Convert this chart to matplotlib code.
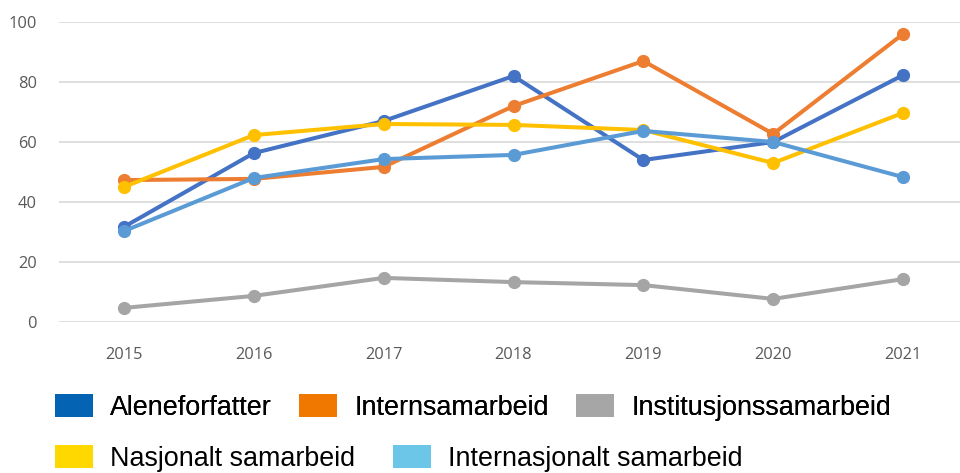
import matplotlib.pyplot as plt
from matplotlib.patches import Patch

years = ['2015', '2016', '2017', '2018', '2019', '2020', '2021']
series = ['Aleneforfatter', 'Internsamarbeid', 'Institusjonssamarbeid',
          'Nasjonalt samarbeid', 'Internasjonalt samarbeid']
aleneforfatter = [31.7, 56.3, 67, 82, 54, 60, 82.3]
internsamarbeid = [47.3, 47.7, 51.7, 72, 87, 62.7, 96]
institusjonssamarbeid = [4.7, 8.7, 14.7, 13.3, 12.3, 7.7, 14.3]
nasjonalt = [45, 62.3, 66, 65.7, 64, 53, 69.7]
internasjonalt = [30.3, 48, 54.3, 55.7, 63.7, 60, 48.3]
values = [aleneforfatter, internsamarbeid, institusjonssamarbeid, nasjonalt, internasjonalt]

line_colors = ['#4472C4', '#ED7D31', '#A5A5A5', '#FFC000', '#5B9BD5']
legend_colors = ['#0563B3', '#F07800', '#A6A6A6', '#FFD800', '#6CC6E8']

W, H = 960, 473
fig = plt.figure(figsize=(W / 100, H / 100), dpi=100)
# plot area in pixels: x 59..968 (cut off at right), y 22..322
ax = fig.add_axes([59 / W, (H - 322) / H, (968 - 59) / W, 300 / H])

x = list(range(len(years)))
for vals, c in zip(values, line_colors):
    ax.plot(x, vals, color=c, lw=2.9, marker='o', ms=8.5, solid_capstyle='round', zorder=3)

ax.set_xlim(-0.5, 6.5)
ax.set_ylim(0, 100)
ax.set_yticks(range(0, 101, 20))
ax.set_xticks(x)
ax.set_xticklabels(years)
ax.grid(axis='y', color='#D9D9D9', lw=1.2)
ax.set_axisbelow(True)
for s in ax.spines.values():
    s.set_visible(False)
ax.tick_params(length=0, colors='#595959', labelsize=11.8)
ax.tick_params(axis='y', pad=16)
ax.tick_params(axis='x', pad=18)
for lab in ax.get_xticklabels() + ax.get_yticklabels():
    lab.set_family('Open Sans')

handles = [Patch(facecolor=c, edgecolor='none') for c in legend_colors]
common = dict(loc='upper left', frameon=False, borderpad=0, borderaxespad=0,
              handlelength=1.41, handleheight=0.93, handletextpad=0.63,
              prop={'family': 'Liberation Sans', 'size': 19.4})
leg1 = fig.legend(handles[:3], series[:3], ncol=3, columnspacing=1.02,
                  bbox_to_anchor=(55 / W, 1 - 394 / H), **common)
fig.add_artist(leg1)
leg2 = fig.legend(handles[3:], series[3:], ncol=2, columnspacing=1.4,
                  bbox_to_anchor=(55 / W, 1 - 445 / H), **common)

fig.savefig('out.png', dpi=100)
